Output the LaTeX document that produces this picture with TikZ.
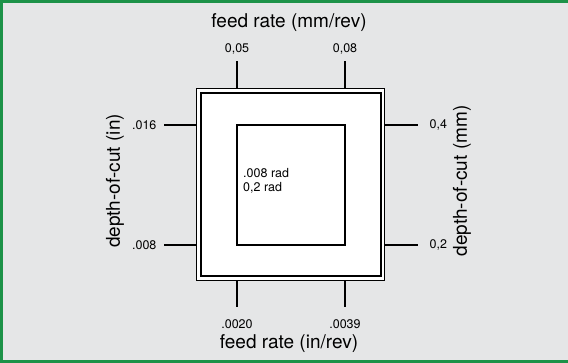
\documentclass[tikz,border=0pt]{standalone}
\usepackage{fontspec}
\setmainfont{TeX Gyre Heros}
\definecolor{panelgray}{RGB}{229,230,231}
\definecolor{edgegreen}{RGB}{28,146,72}
\begin{document}
\begin{tikzpicture}[x=1pt, y=-1pt]
    % Set up styles for the chart
    \tikzstyle{axis} = [font=\fontsize{19}{21}\selectfont, inner sep=0pt]
    \tikzstyle{val} = [font=\fontsize{12.5}{14}\selectfont, inner sep=0pt]
    \tikzstyle{tick} = [line width=2.2pt]
    \tikzstyle{box} = [draw, inner sep=0pt, outer sep=0pt]

    % Background and green border (open on the right)
    \useasboundingbox (0,0) rectangle (568,363);
    \fill[panelgray] (0,0) rectangle (568,363);
    \draw[edgegreen, line width=3pt] (568,1.5) -- (1.5,1.5) -- (1.5,361.5) -- (568,361.5);

    % Double frame and inner square
    \node[box, fill=white, line width=1.3pt, minimum width=188pt, minimum height=192pt]
        (frame) at (290.5,184.5) {};
    \node[box, line width=2pt, minimum width=180pt, minimum height=183pt]
        (panel) at (290.5,184.5) {};
    \node[box, line width=2.2pt, minimum width=108pt, minimum height=120pt]
        (cut) at (291,184.8) {};
    \node[font=\fontsize{12.5}{13.5}\selectfont, align=left, inner sep=0pt, anchor=west]
        (rad) at (243,181) {.008 rad\\0,2 rad};

    % Ticks for feed rate
    \draw[tick] (cut.north west |- frame.north) -- ++(0,-27)
        node[val, above=6pt] (mmlo) {0,05};
    \draw[tick] (cut.north east |- frame.north) -- ++(0,-27)
        node[val, above=6pt] (mmhi) {0,08};
    \draw[tick] (cut.south west |- frame.south) -- ++(0,27)
        node[val, below=11pt] (inlo) {.0020};
    \draw[tick] (cut.south east |- frame.south) -- ++(0,27)
        node[val, below=11pt] (inhi) {.0039};

    % Ticks for depth-of-cut
    \draw[tick] (cut.north west -| frame.west) -- ++(-33,0)
        node[val, left=6pt] (dinhi) {.016};
    \draw[tick] (cut.south west -| frame.west) -- ++(-33,0)
        node[val, left=6pt] (dinlo) {.008};
    \draw[tick] (cut.north east -| frame.east) -- ++(33,0)
        node[val, right=11pt] (dmmhi) {0,4};
    \draw[tick] (cut.south east -| frame.east) -- ++(33,0)
        node[val, right=11pt] (dmmlo) {0,2};

    % Axis titles
    \node[axis] (feedmm) at (289,23) {feed rate (mm/rev)};
    \node[axis] (feedin) at (289,344) {feed rate (in/rev)};
    \node[axis, rotate=90] (depthin) at (115,181) {depth-of-cut (in)};
    \node[axis, rotate=90] (depthmm) at (462,181) {depth-of-cut (mm)};

\end{tikzpicture}
\end{document}
